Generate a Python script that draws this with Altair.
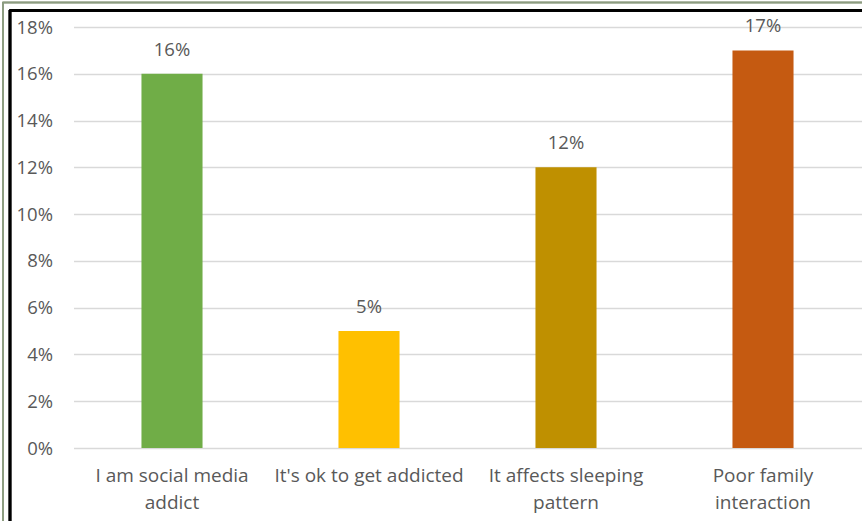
import altair as alt
import pandas as pd

# Survey responses about social media use
categories = [
    "I am social media\naddict",
    "It's ok to get addicted",
    "It affects sleeping\npattern",
    "Poor family\ninteraction",
]
shares = [0.16, 0.05, 0.12, 0.17]
bar_colors = ["#70AD47", "#FFC000", "#BF9000", "#C55A11"]
y_ticks = [0.0, 0.02, 0.04, 0.06, 0.08, 0.10, 0.12, 0.14, 0.16, 0.18]

df = pd.DataFrame({"category": categories, "share": shares})

FONT = "Open Sans"
GREY = "#595959"

x_enc = alt.X(
    "category:N",
    sort=categories,
    scale=alt.Scale(paddingInner=0.69, paddingOuter=0.345),
    axis=alt.Axis(
        title=None,
        labelExpr="split(datum.value, '\\n')",
        labelAngle=0,
        labelFont=FONT,
        labelFontSize=19,
        labelColor=GREY,
        labelPadding=18,
        labelLineHeight=27,
        labelBaseline="top",
        labelLimit=250,
        ticks=False,
        domain=False,
    ),
)
y_enc = alt.Y(
    "share:Q",
    scale=alt.Scale(domain=[0, 0.18], nice=False),
    axis=alt.Axis(
        title=None,
        values=y_ticks,
        format=".0%",
        labelFont=FONT,
        labelFontSize=18.5,
        labelColor=GREY,
        labelPadding=21,
        ticks=False,
        domain=False,
        grid=True,
        gridColor="#D9D9D9",
        gridWidth=1.5,
    ),
)

bars = alt.Chart(df).mark_bar().encode(
    x=x_enc,
    y=y_enc,
    color=alt.Color("category:N", scale=alt.Scale(domain=categories, range=bar_colors), legend=None),
)

labels = alt.Chart(df).mark_text(
    dy=-24, font=FONT, fontSize=18.5, color=GREY
).encode(
    x=alt.X("category:N", sort=categories),
    y="share:Q",
    text=alt.Text("share:Q", format=".0%"),
)

# Frame lines along the top and left edges
outer_top = alt.Chart(df).mark_rule(color="#8C9C80", strokeWidth=1.5, clip=False).encode(
    x=alt.value(-71), x2=alt.value(800), y=alt.value(-24.5)
)
outer_left = alt.Chart(df).mark_rule(color="#8C9C80", strokeWidth=1.5, clip=False).encode(
    x=alt.value(-70.5), y=alt.value(-25), y2=alt.value(500)
)
inner_top = alt.Chart(df).mark_rule(color="#000000", strokeWidth=2.5, clip=False).encode(
    x=alt.value(-64), x2=alt.value(800), y=alt.value(-16.5)
)
inner_left = alt.Chart(df).mark_rule(color="#000000", strokeWidth=2.5, clip=False).encode(
    x=alt.value(-63.5), y=alt.value(-17), y2=alt.value(500)
)

chart = (
    alt.layer(bars, labels, outer_top, outer_left, inner_top, inner_left)
    .properties(
        width=788,
        height=421,
        autosize=alt.AutoSizeParams(type="none"),
        padding={"left": 73.5, "top": 27, "right": 0.5, "bottom": 73},
        background="white",
    )
    .configure_view(stroke=None)
)

chart.save("out.html", embed_options={"renderer": "svg", "actions": False})
